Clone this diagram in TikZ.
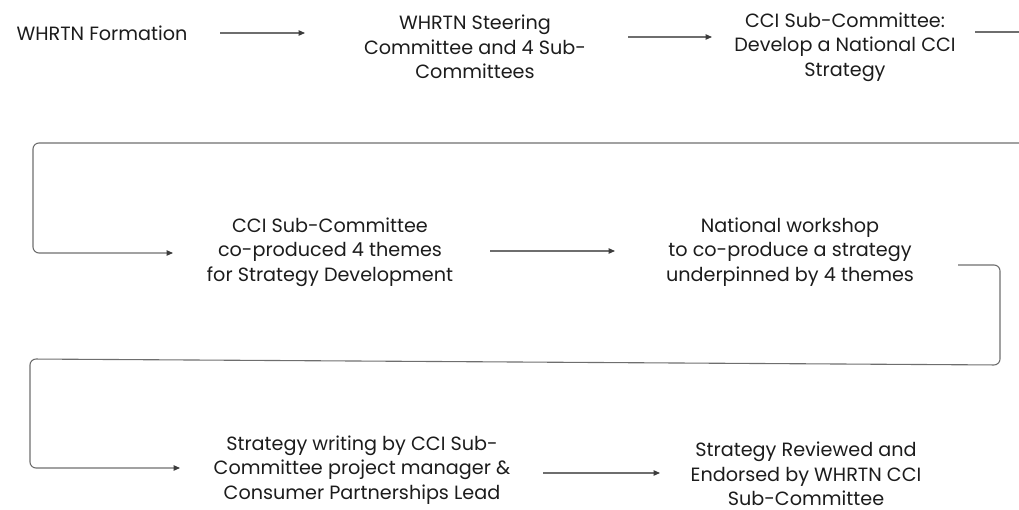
\documentclass[tikz,border=0pt]{standalone}
\usepackage{fontspec}
\setmainfont{Poppins}
\usetikzlibrary{arrows.meta}
\definecolor{ink}{HTML}{1C1C1C}
\definecolor{wire}{HTML}{6E6E6E}
\definecolor{tip}{HTML}{3C3C3C}
\tikzset{
  label/.style={align=center, inner sep=0pt, text=ink,
    font=\fontsize{19.2}{24.5}\selectfont},
  flow/.style={draw=wire, line width=1.1pt,
    -{Triangle[length=6.5pt,width=5.5pt,color=tip]}},
  wrap/.style={flow, rounded corners=6pt},
  link/.style={draw=wire, line width=1.1pt}
}
\begin{document}
\begin{tikzpicture}[x=1pt,y=-1pt]
\useasboundingbox (0,0) rectangle (1019,510);

% stages
\node[label] (n1) at (102,33) {WHRTN Formation};
\node[label] (n2) at (475,47) {WHRTN Steering\\Committee and 4 Sub-\\Committees};
\node[label] (n3) at (845,47) {CCI Sub-Committee:\\Develop a National CCI\\Strategy};
\node[label] (n4) at (330,252) {CCI Sub-Committee\\co-produced 4 themes\\for Strategy Development};
\node[label] (n5) at (790,252) {National workshop\\to co-produce a strategy\\underpinned by 4 themes};
\node[label] (n6) at (362,470) {Strategy writing by CCI Sub-\\Committee project manager \&\\Consumer Partnerships Lead};
\node[label] (n7) at (806,474) {Strategy Reviewed and\\Endorsed by WHRTN CCI\\Sub-Committee};

% connector end points
\coordinate (a1s) at (220,33);   \coordinate (a1e) at (305,33);
\coordinate (a2s) at (628,37);   \coordinate (a2e) at (712,37);
\coordinate (r1s) at (975,32);   \coordinate (r1e) at (1019,32);
\coordinate (w1s) at (1019,143); \coordinate (w1c) at (33,143);
\coordinate (w1d) at (33,253);   \coordinate (w1e) at (173,253);
\coordinate (a3s) at (490,251);  \coordinate (a3e) at (615,251);
\coordinate (w2s) at (958,265);  \coordinate (w2c) at (1000,265);
\coordinate (w2d) at (1000,365); \coordinate (w2f) at (30,359);
\coordinate (w2g) at (30,468);   \coordinate (w2e) at (180,468);
\coordinate (a4s) at (543,473);  \coordinate (a4e) at (660,473);

% connectors
\draw[flow] (a1s) -- (a1e);
\draw[flow] (a2s) -- (a2e);
\draw[link] (r1s) -- (r1e);
\draw[wrap] (w1s) -- (w1c) -- (w1d) -- (w1e);
\draw[flow] (a3s) -- (a3e);
\draw[wrap] (w2s) -- (w2c) -- (w2d) -- (w2f) -- (w2g) -- (w2e);
\draw[flow] (a4s) -- (a4e);
\end{tikzpicture}
\end{document}
